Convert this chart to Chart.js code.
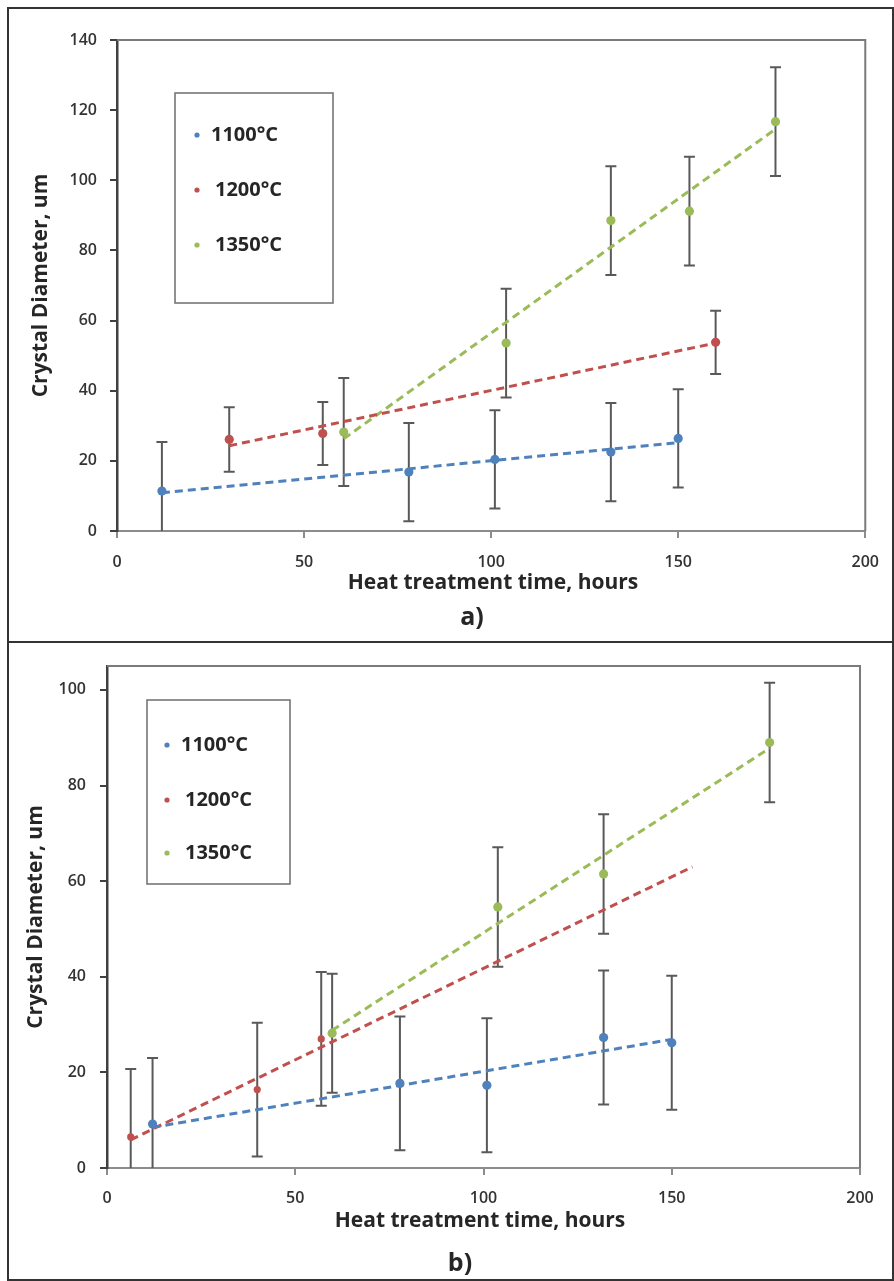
<!DOCTYPE html>
<html>
<head>
<meta charset="utf-8">
<script src="https://cdn.jsdelivr.net/npm/chart.js"></script>
<style>
    html, body { margin: 0; padding: 0; background: #ffffff; }
    body { width: 894px; height: 1281px; position: relative; overflow: hidden; }
    .panel { position: absolute; box-sizing: border-box; border: 2px solid #333333; }
    canvas { position: absolute; left: 0; }
</style>
</head>
<body>
<div class="panel" style="left:7px; top:7px; width:887px; height:636px;"></div>
<div class="panel" style="left:7px; top:641px; width:887px; height:640px;"></div>
<canvas id="chart-a" width="894" height="642" style="top:0px;"></canvas>
<canvas id="chart-b" width="894" height="639" style="top:642px;"></canvas>
<script>
// --- Data ---
const seriesLabels = ["1100°C", "1200°C", "1350°C"];
const seriesColors = ["#4f81bd", "#c0504d", "#9bbb59"];

// a) panel
const aTime1100 = [12, 78, 101, 132, 150];
const aDiam1100 = [11.4, 16.8, 20.4, 22.5, 26.4];
const aErr1100 = [14, 14, 14, 14, 14];
const aTime1200 = [30, 55, 160];
const aDiam1200 = [26.1, 27.8, 53.8];
const aErr1200 = [9.2, 9, 9];
const aTime1350 = [60.6, 104, 132, 153, 176];
const aDiam1350 = [28.2, 53.6, 88.5, 91.2, 116.7];
const aErr1350 = [15.4, 15.5, 15.5, 15.5, 15.5];
// dashed trend lines, start / end
const aTrendTime1100 = [12, 150];
const aTrendDiam1100 = [10.9, 25.2];
const aTrendTime1200 = [30, 160];
const aTrendDiam1200 = [24.3, 53.6];
const aTrendTime1350 = [60.6, 176];
const aTrendDiam1350 = [26.3, 114.6];

// b) panel
const bTime1100 = [12.1, 77.8, 100.9, 131.9, 150];
const bDiam1100 = [9.2, 17.7, 17.3, 27.3, 26.2];
const bErr1100 = [13.8, 14, 14, 14, 14];
const bTime1200 = [6.3, 39.9, 56.9];
const bDiam1200 = [6.5, 16.4, 27.0];
const bErr1200 = [14.2, 14, 14];
const bTime1350 = [59.8, 103.8, 131.9, 176];
const bDiam1350 = [28.2, 54.6, 61.5, 89];
const bErr1350 = [12.45, 12.5, 12.5, 12.5];
const bTrendTime1100 = [12.1, 150];
const bTrendDiam1100 = [8.5, 26.9];
const bTrendTime1200 = [6.3, 155.5];
const bTrendDiam1200 = [5.9, 63];
const bTrendTime1350 = [59.8, 176];
const bTrendDiam1350 = [28.8, 87.8];

const xTitle = "Heat treatment time, hours";
const yTitle = "Crystal Diameter, um";

const FONT = '"Open Sans", "Lato", sans-serif';

const toPoints = (xs, ys) => xs.map((x, i) => ({ x: x, y: ys[i] }));

// --- Error bars, plot frame, legend box and titles ---
const panelDecor = {
    id: "panelDecor",
    beforeDatasetsDraw(chart, args, opts) {
        const { ctx, chartArea, scales } = chart;
        ctx.save();
        ctx.beginPath();
        ctx.rect(chartArea.left, chartArea.top, chartArea.width, chartArea.height);
        ctx.clip();
        ctx.strokeStyle = "#595959";
        ctx.lineWidth = 2;
        opts.errorBars.forEach((s) => {
            s.x.forEach((xv, i) => {
                const px = scales.x.getPixelForValue(xv);
                const top = scales.y.getPixelForValue(s.y[i] + s.err[i]);
                const bot = scales.y.getPixelForValue(s.y[i] - s.err[i]);
                ctx.beginPath();
                ctx.moveTo(px, top);
                ctx.lineTo(px, bot);
                ctx.moveTo(px - 5.5, top);
                ctx.lineTo(px + 5.5, top);
                ctx.moveTo(px - 5.5, bot);
                ctx.lineTo(px + 5.5, bot);
                ctx.stroke();
            });
        });
        ctx.restore();
    },
    afterDraw(chart, args, opts) {
        const { ctx, chartArea } = chart;
        ctx.save();

        // top / right frame of the plot area
        ctx.strokeStyle = "#7a7a7a";
        ctx.lineWidth = 2;
        ctx.beginPath();
        ctx.moveTo(chartArea.left, chartArea.top);
        ctx.lineTo(chartArea.right, chartArea.top);
        ctx.lineTo(chartArea.right, chartArea.bottom);
        ctx.stroke();

        // legend box
        const lg = opts.legend;
        ctx.strokeStyle = "#6d6d6d";
        ctx.lineWidth = 1.5;
        ctx.strokeRect(lg.x, lg.y, lg.w, lg.h);
        ctx.font = "bold 20px " + FONT;
        ctx.textBaseline = "middle";
        ctx.textAlign = "left";
        seriesLabels.forEach((label, i) => {
            const cy = lg.y + lg.rows[i];
            ctx.fillStyle = seriesColors[i];
            ctx.beginPath();
            ctx.arc(lg.x + lg.dotX, cy, 2.6, 0, Math.PI * 2);
            ctx.fill();
            ctx.fillStyle = "#262626";
            ctx.fillText(label, lg.x + lg.textX[i], cy);
        });

        // axis titles
        ctx.fillStyle = "#262626";
        ctx.font = "bold 21px " + FONT;
        ctx.textAlign = "center";
        ctx.fillText(xTitle, opts.xTitle.x, chartArea.bottom + opts.xTitle.dy);
        ctx.save();
        ctx.translate(opts.yTitle.x, (chartArea.top + chartArea.bottom) / 2);
        ctx.rotate(-Math.PI / 2);
        ctx.fillText(yTitle, 0, 0);
        ctx.restore();

        // panel letter
        ctx.font = "bold 25px " + FONT;
        ctx.fillText(opts.letter.text, opts.letter.x, chartArea.bottom + opts.letter.dy);
        ctx.restore();
    },
};

function buildPanel(canvasId, p) {
    const pointSets = p.series.map((s, i) => ({
        label: seriesLabels[i],
        data: toPoints(s.x, s.y),
        backgroundColor: seriesColors[i],
        borderWidth: 0,
        pointRadius: s.radius,
        showLine: false,
    }));
    const trendSets = p.trends.map((t, i) => ({
        label: seriesLabels[i] + " trend",
        data: toPoints(t.x, t.y),
        borderColor: seriesColors[i],
        borderWidth: 3,
        borderDash: [8, 5],
        pointRadius: 0,
        showLine: true,
        fill: false,
    }));

    const tickFont = { family: FONT, size: 16, weight: "600" };

    return new Chart(document.getElementById(canvasId), {
        type: "scatter",
        data: { datasets: pointSets.concat(trendSets) },
        options: {
            responsive: false,
            animation: false,
            events: [],
            layout: { padding: p.padding },
            plugins: {
                legend: { display: false },
                tooltip: { enabled: false },
                panelDecor: {
                    errorBars: p.series,
                    legend: p.legend,
                    xTitle: p.xTitle,
                    yTitle: p.yTitle,
                    letter: p.letter,
                },
            },
            scales: {
                x: {
                    type: "linear",
                    min: 0,
                    max: 200,
                    ticks: { stepSize: 50, color: "#333333", font: tickFont, padding: p.xTickPad, maxRotation: 0 },
                    grid: { drawOnChartArea: false, drawTicks: true, tickLength: 7, color: "#8c8c8c", lineWidth: 2 },
                    border: { color: "#8c8c8c", width: 2 },
                    afterFit: (s) => { s.height = 50; },
                },
                y: {
                    type: "linear",
                    min: 0,
                    max: p.yMax,
                    ticks: { stepSize: 20, color: "#333333", font: tickFont, padding: p.yTickPad },
                    grid: { drawOnChartArea: false, drawTicks: true, tickLength: 7, color: "#404040", lineWidth: 2 },
                    border: { color: "#404040", width: 2.5 },
                    afterBuildTicks: (s) => { s.ticks = s.ticks.filter((t) => t.value % 20 === 0); },
                    afterFit: (s) => { s.width = p.yWidth; },
                },
            },
        },
        plugins: [panelDecor],
    });
}

buildPanel("chart-a", {
    series: [
        { x: aTime1100, y: aDiam1100, err: aErr1100, radius: 4.6 },
        { x: aTime1200, y: aDiam1200, err: aErr1200, radius: 4.6 },
        { x: aTime1350, y: aDiam1350, err: aErr1350, radius: 4.6 },
    ],
    trends: [
        { x: aTrendTime1100, y: aTrendDiam1100 },
        { x: aTrendTime1200, y: aTrendDiam1200 },
        { x: aTrendTime1350, y: aTrendDiam1350 },
    ],
    padding: { left: 0, right: 24, top: 40, bottom: 61 },
    yMax: 140,
    yWidth: 117,
    yTickPad: 13,
    xTickPad: 15,
    legend: { x: 175, y: 93, w: 158, h: 210, dotX: 22, textX: [36, 40, 40], rows: [42, 97, 152] },
    xTitle: { x: 493, dy: 52 },
    yTitle: { x: 41 },
    letter: { text: "a)", x: 472, dy: 87 },
});

buildPanel("chart-b", {
    series: [
        { x: bTime1100, y: bDiam1100, err: bErr1100, radius: 4.6 },
        { x: bTime1200, y: bDiam1200, err: bErr1200, radius: 3.6 },
        { x: bTime1350, y: bDiam1350, err: bErr1350, radius: 4.6 },
    ],
    trends: [
        { x: bTrendTime1100, y: bTrendDiam1100 },
        { x: bTrendTime1200, y: bTrendDiam1200 },
        { x: bTrendTime1350, y: bTrendDiam1350 },
    ],
    padding: { left: 0, right: 34, top: 24, bottom: 63 },
    yMax: 105,
    yWidth: 107,
    yTickPad: 14,
    xTickPad: 14,
    legend: { x: 147, y: 58, w: 143, h: 184, dotX: 20, textX: [34, 38, 38], rows: [45, 100, 153] },
    xTitle: { x: 480, dy: 53 },
    yTitle: { x: 36 },
    letter: { text: "b)", x: 460, dy: 96 },
});
</script>
</body>
</html>
